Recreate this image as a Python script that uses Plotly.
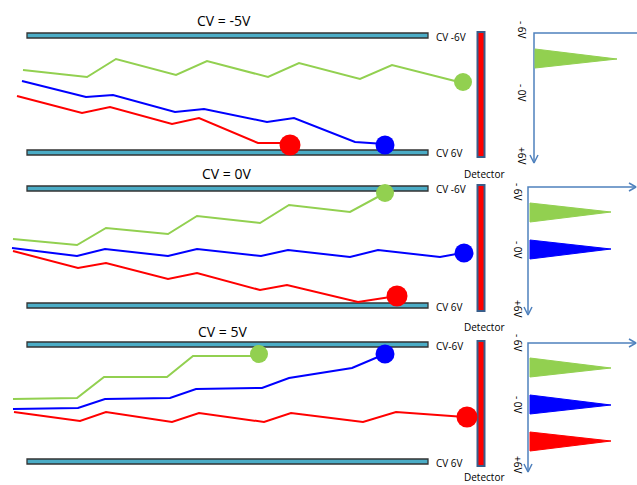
import plotly.graph_objects as go

# ---------------- data (pixel-space diagram geometry) ----------------
GREEN = "#92D050"
BLUE = "#0000FF"
RED = "#FF0000"
PLATE = "#4BACC6"
AXIS = "#4F81BD"

panel_titles = ["CV = -5V", "CV = 0V", "CV = 5V"]
title_x = [224, 226, 222]
title_y = [20, 173, 331]

plate_top_y = [33, 186, 342]
plate_bot_y = [150, 303, 459]
plate_x0, plate_x1 = 27, 428
top_labels = ["CV -6V", "CV -6V", "CV-6V"]
top_label_y = [37, 189, 346]
bot_labels = ["CV 6V", "CV 6V", "CV 6V"]
bot_label_y = [153, 307, 463]

det_y0 = [32, 185, 341]
det_y1 = [157, 311, 466]
det_label_y = [174, 327, 477]

# ion paths, panel 1 (CV = -5V)
g1_x = [23, 87, 116, 176, 207, 268, 299, 360, 392, 455]
g1_y = [70, 77, 59, 75, 61, 77, 63, 79, 65, 81]
b1_x = [22, 86, 113, 175, 204, 267, 294, 355, 385]
b1_y = [81, 97, 95, 112, 109, 122, 118, 142, 144]
r1_x = [17, 82, 110, 172, 199, 258, 282]
r1_y = [96, 113, 107, 124, 118, 143, 143]
end1_x = [463, 385, 290]
end1_y = [82, 145, 145]

# panel 2 (CV = 0V)
g2_x = [13, 77, 106, 168, 197, 260, 289, 350, 385]
g2_y = [239, 245, 228, 234, 216, 223, 205, 212, 193]
b2_x = [12, 77, 105, 168, 197, 261, 288, 350, 378, 440, 462]
b2_y = [248, 256, 249, 256, 249, 256, 250, 257, 250, 257, 253]
r2_x = [13, 78, 106, 168, 197, 260, 287, 358, 397]
r2_y = [251, 268, 263, 279, 273, 290, 285, 302, 296]
end2_x = [385, 464, 397]
end2_y = [193, 253, 296]

# panel 3 (CV = 5V)
g3_x = [13, 77, 104, 167, 193, 255]
g3_y = [399, 398, 377, 377, 356, 356]
b3_x = [13, 78, 105, 170, 196, 262, 289, 352, 385]
b3_y = [409, 408, 399, 398, 389, 388, 378, 368, 354]
r3_x = [14, 80, 106, 172, 199, 264, 291, 363, 396, 465]
r3_y = [412, 421, 412, 422, 413, 422, 413, 422, 412, 417]
end3_x = [259, 385, 467]
end3_y = [354, 354, 417]

end_colors = [GREEN, BLUE, RED]
end_sizes = [18, 19, 21]

# detector spectra (right side)
axis_x = [534, 528, 528]
axis_top = [33, 187, 343]
axis_bot = [163, 315, 472]
axis_right = [640, 636, 636]
axis_arrow_right = [False, True, True]
spec_labels = ["- 6V", "- 0V", "+6V"]
spec_label_x = [522, 518, 518]
spec_label_y = [[30, 93, 155], [192, 250, 308], [343, 405, 464]]

peak_left = [535, 530, 530]
peak_tip = [617, 611, 611]
peaks_p1 = [(GREEN, 49, 68, 59)]
peaks_p2 = [(GREEN, 203, 222, 212), (BLUE, 240, 259, 249)]
peaks_p3 = [(GREEN, 358, 377, 368), (BLUE, 395, 414, 405), (RED, 432, 451, 441)]
peaks = [peaks_p1, peaks_p2, peaks_p3]

FONT = "Open Sans, sans-serif"

# ---------------- figure ----------------
fig = go.Figure()
shapes = []
annotations = []

for i in range(3):
    # plates
    for py in (plate_top_y[i], plate_bot_y[i]):
        shapes.append(dict(type="rect", x0=plate_x0, x1=plate_x1, y0=py, y1=py + 5,
                           line=dict(color="#333333", width=1.3), fillcolor=PLATE, layer="below"))
    # detector
    shapes.append(dict(type="rect", x0=477.5, x1=484.5, y0=det_y0[i], y1=det_y1[i],
                       line=dict(color="#385D8A", width=2), fillcolor=RED, layer="below"))
    annotations.append(dict(x=title_x[i], y=title_y[i], text=panel_titles[i], showarrow=False,
                            font=dict(size=14, color="black", family=FONT)))
    annotations.append(dict(x=434, y=top_label_y[i], text=top_labels[i], showarrow=False,
                            xanchor="left", font=dict(size=10, color="black", family=FONT)))
    annotations.append(dict(x=434, y=bot_label_y[i], text=bot_labels[i], showarrow=False,
                            xanchor="left", font=dict(size=10, color="black", family=FONT)))
    annotations.append(dict(x=484, y=det_label_y[i], text="Detector", showarrow=False,
                            font=dict(size=10, color="black", family=FONT)))
    # spectra axes
    ax = axis_x[i]
    fig.add_trace(go.Scatter(x=[axis_right[i], ax, ax], y=[axis_top[i], axis_top[i], axis_bot[i]],
                             mode="lines", line=dict(color=AXIS, width=1.5), hoverinfo="skip"))
    fig.add_trace(go.Scatter(x=[ax - 4, ax, ax + 4], y=[axis_bot[i] - 8, axis_bot[i], axis_bot[i] - 8],
                             mode="lines", line=dict(color=AXIS, width=1.5), hoverinfo="skip"))
    if axis_arrow_right[i]:
        xr = axis_right[i]
        fig.add_trace(go.Scatter(x=[xr - 7, xr, xr - 7], y=[axis_top[i] - 4, axis_top[i], axis_top[i] + 4],
                                 mode="lines", line=dict(color=AXIS, width=1.5), hoverinfo="skip"))
    for lab, ly in zip(spec_labels, spec_label_y[i]):
        annotations.append(dict(x=spec_label_x[i], y=ly, text=lab, showarrow=False, textangle=90,
                                font=dict(size=10, color="black", family=FONT)))
    for col, y0, y1, ym in peaks[i]:
        fig.add_trace(go.Scatter(x=[peak_left[i], peak_left[i], peak_tip[i], peak_left[i]],
                                 y=[y0, y1, ym, y0], mode="lines", fill="toself",
                                 fillcolor=col, line=dict(color=col, width=1), hoverinfo="skip"))

paths = [
    (g1_x, g1_y, GREEN), (b1_x, b1_y, BLUE), (r1_x, r1_y, RED),
    (g2_x, g2_y, GREEN), (b2_x, b2_y, BLUE), (r2_x, r2_y, RED),
    (g3_x, g3_y, GREEN), (b3_x, b3_y, BLUE), (r3_x, r3_y, RED),
]
for xs, ys, col in paths:
    fig.add_trace(go.Scatter(x=xs, y=ys, mode="lines", line=dict(color=col, width=2), hoverinfo="skip"))

for ex, ey in ((end1_x, end1_y), (end2_x, end2_y), (end3_x, end3_y)):
    fig.add_trace(go.Scatter(x=ex, y=ey, mode="markers",
                             marker=dict(color=end_colors, size=end_sizes, opacity=1, line=dict(width=0)),
                             opacity=1, hoverinfo="skip"))

fig.update_layout(
    width=637, height=485,
    margin=dict(l=0, r=0, t=0, b=0),
    paper_bgcolor="white", plot_bgcolor="white",
    showlegend=False,
    xaxis=dict(range=[0, 637], visible=False, fixedrange=True),
    yaxis=dict(range=[485, 0], visible=False, fixedrange=True),
    shapes=shapes,
    annotations=annotations,
)

fig.write_html("out.html", config={"displayModeBar": False},
               post_script="document.body.style.margin='0';document.body.style.overflow='hidden';")
